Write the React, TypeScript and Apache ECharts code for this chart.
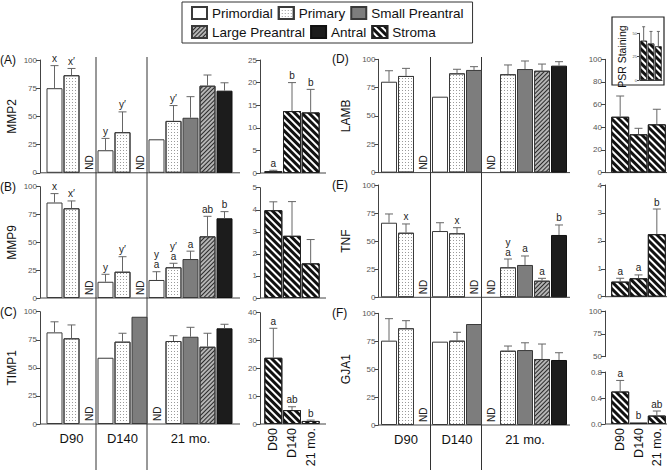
import React, { useEffect, useRef } from "react";
import * as echarts from "echarts";

const FONT = '"Liberation Sans", Arial, Helvetica, sans-serif';

// ---------- categories ----------
const FOLLICLE_TYPES = ["Primordial", "Primary", "Small Preantral", "Large Preantral", "Antral"];
const STROMA = "Stroma";
const STAGES = ["D90", "D140", "21 mo."];
// each bar slot: follicle type index and stage index
const SLOT_TYPE = [0, 1, 2, 0, 1, 2, 0, 1, 2, 3, 4];
const SLOT_STAGE = [0, 0, 0, 1, 1, 1, 2, 2, 2, 2, 2];
const STAGE_LABEL_SLOT = [1, 4, 8];
const SLOT_NAMES = SLOT_TYPE.map((t, i) => STAGES[SLOT_STAGE[i]] + " " + FOLLICLE_TYPES[t]);

// ---------- (A) MMP2 ----------
const MMP2_VALUES = [75, 86.5, null, 20, 36, null, 29.7, 46, 48.8, 77.2, 72.8];
const MMP2_ERRORS = [20, 6, null, 10.5, 18, null, null, 13.6, 18.7, 9.5, 7];
const MMP2_LETTERS = ["x", "x\u2032", "", "y", "y\u2032", "", "", "y\u2032", "", "", ""];
const MMP2_ND = [2, 5];
const MMP2_STROMA = [0.4, 13.7, 13.4];
const MMP2_STROMA_ERR = [0.2, 6.3, 5.1];
const MMP2_STROMA_LETTERS = ["a", "b", "b"];

// ---------- (B) MMP9 ----------
const MMP9_VALUES = [85.8, 80.6, null, 14.6, 23.6, null, 16.2, 27.6, 35, 55.4, 71.6];
const MMP9_ERRORS = [8, 6.6, null, 6.7, 13.5, null, 7.4, 3.6, 7.1, 18, 6];
const MMP9_LETTERS = ["x", "x\u2032", "", "y", "y\u2032", "", "y\na", "y\u2032\na", "a", "ab", "b"];
const MMP9_ND = [2, 5];
const MMP9_STROMA = [3.98, 2.82, 1.57];
const MMP9_STROMA_ERR = [0.38, 1.55, 1.08];
const MMP9_STROMA_LETTERS = ["", "", ""];

// ---------- (C) TIMP1 ----------
const TIMP1_VALUES = [81.6, 76.3, null, 59, 73.3, 95.5, null, 73.9, 77.7, 68.8, 85.2];
const TIMP1_ERRORS = [9.4, 11.9, null, null, 7.5, null, null, 4.7, 8.4, 12, 3.6];
const TIMP1_LETTERS = ["", "", "", "", "", "", "", "", "", "", ""];
const TIMP1_ND = [2, 6];
const TIMP1_STROMA = [23.8, 5.0, 1.1];
const TIMP1_STROMA_ERR = [10.6, 1.2, 0.3];
const TIMP1_STROMA_LETTERS = ["a", "ab", "b"];

// ---------- (D) LAMB ----------
const LAMB_VALUES = [80.2, 85.3, null, 67, 87.6, 90.6, null, 86.8, 91.4, 89.9, 94.4];
const LAMB_ERRORS = [9.7, 6.7, null, null, 3.6, 2.9, null, 8.2, 7.1, 5.9, 3.5];
const LAMB_LETTERS = ["", "", "", "", "", "", "", "", "", "", ""];
const LAMB_ND = [2, 6];
const LAMB_STROMA = [49.3, 33.8, 42.6];
const LAMB_STROMA_ERR = [18.3, 5.3, 13.3];
const LAMB_STROMA_LETTERS = ["", "", ""];
const PSR_VALUES = [42, 39, 36];
const PSR_ERR = [15, 13, 16];
const PSR_TICKS = [0, 25, 50];

// ---------- (E) TNF ----------
const TNF_VALUES = [66.4, 57.5, null, 59, 57, null, null, 26.7, 28.8, 14.8, 55.5];
const TNF_ERRORS = [7.8, 7.8, null, 7.4, 5, null, null, 7.4, 8, 2.1, 8.9];
const TNF_LETTERS = ["", "x", "", "", "x", "", "", "y\na", "a", "a", "b"];
const TNF_ND = [2, 5, 6];
const TNF_STROMA = [0.54, 0.66, 2.24];
const TNF_STROMA_ERR = [0.12, 0.12, 0.9];
const TNF_STROMA_LETTERS = ["a", "a", "b"];

// ---------- (F) GJA1 ----------
const GJA1_VALUES = [75.5, 86.6, null, 74.6, 75.5, 90.4, null, 66.5, 67.1, 59.1, 58.2];
const GJA1_ERRORS = [19.7, 6.8, null, null, 7.5, null, null, 4.2, 6.5, 13.4, 6.5];
const GJA1_LETTERS = ["", "", "", "", "", "", "", "", "", "", ""];
const GJA1_ND = [2, 6];
const GJA1_STROMA = [0.5, 0.02, 0.13];
const GJA1_STROMA_ERR = [0.17, null, 0.07];
const GJA1_STROMA_LETTERS = ["a", "b", "ab"];

const MAIN_TICKS = { min: 0, max: 100, interval: 25 };

const PANELS = [
  { tag: "(A)", name: "MMP2", values: MMP2_VALUES, errors: MMP2_ERRORS, letters: MMP2_LETTERS, nd: MMP2_ND,
    stroma: MMP2_STROMA, stromaErr: MMP2_STROMA_ERR, stromaLetters: MMP2_STROMA_LETTERS, axis: { min: 0, max: 25, interval: 5 } },
  { tag: "(B)", name: "MMP9", values: MMP9_VALUES, errors: MMP9_ERRORS, letters: MMP9_LETTERS, nd: MMP9_ND,
    stroma: MMP9_STROMA, stromaErr: MMP9_STROMA_ERR, stromaLetters: MMP9_STROMA_LETTERS, axis: { min: 0, max: 5, interval: 1 } },
  { tag: "(C)", name: "TIMP1", values: TIMP1_VALUES, errors: TIMP1_ERRORS, letters: TIMP1_LETTERS, nd: TIMP1_ND,
    stroma: TIMP1_STROMA, stromaErr: TIMP1_STROMA_ERR, stromaLetters: TIMP1_STROMA_LETTERS, axis: { min: 0, max: 40, interval: 10 } },
  { tag: "(D)", name: "LAMB", values: LAMB_VALUES, errors: LAMB_ERRORS, letters: LAMB_LETTERS, nd: LAMB_ND,
    stroma: LAMB_STROMA, stromaErr: LAMB_STROMA_ERR, stromaLetters: LAMB_STROMA_LETTERS, axis: { min: 0, max: 100, interval: 20 } },
  { tag: "(E)", name: "TNF", values: TNF_VALUES, errors: TNF_ERRORS, letters: TNF_LETTERS, nd: TNF_ND,
    stroma: TNF_STROMA, stromaErr: TNF_STROMA_ERR, stromaLetters: TNF_STROMA_LETTERS, axis: { min: 0, max: 4, interval: 1 } },
  { tag: "(F)", name: "GJA1", values: GJA1_VALUES, errors: GJA1_ERRORS, letters: GJA1_LETTERS, nd: GJA1_ND,
    stroma: GJA1_STROMA, stromaErr: GJA1_STROMA_ERR, stromaLetters: GJA1_STROMA_LETTERS, axis: { min: 0, max: 0.8, interval: 0.4 },
    upperAxis: { min: 50, max: 100, interval: 25 } },
];

// ---------- layout (pixels) ----------
const COLS = [
  { main: { left: 46, width: 187, axisX: 40, endX: 240 }, inset: { left: 264, width: 56, axisX: 260, endX: 326 }, tagX: 0, nameGap: 22 },
  { main: { left: 380.5, width: 187, axisX: 378.5, endX: 570 }, inset: { left: 611, width: 55, axisX: 605, endX: 667 }, tagX: 332, nameGap: 27 },
];
const ROWS = [
  [{ top: 60, h: 112.8, it: 60, ih: 113 }, { top: 186.7, h: 111.3, it: 187.7, ih: 110.3 }, { top: 311.7, h: 112.3, it: 312.7, ih: 111.3 }],
  [{ top: 59.3, h: 113.3, it: 59.3, ih: 113.3 }, { top: 185, h: 112.3, it: 185, ih: 111.7 }, { top: 313.3, h: 111.7, it: 372, ih: 52, ut: 311, uh: 45.7 }],
];

const BORDER = "#3a3a3a";
const TYPE_STYLES: any[] = [
  { color: "#ffffff", borderColor: BORDER, borderWidth: 1 },
  { color: "#ffffff", borderColor: BORDER, borderWidth: 1,
    decal: { symbol: "rect", symbolSize: 1, dashArrayX: [1, 2], dashArrayY: [1, 2], color: "#9a9a9a" } },
  { color: "#7d7d7d", borderColor: BORDER, borderWidth: 1 },
  { color: "#b4b4b4", borderColor: BORDER, borderWidth: 1,
    decal: { symbol: "rect", symbolSize: 1, dashArrayX: [1, 0], dashArrayY: [1, 1.4], rotation: -Math.PI / 4, color: "#2a2a2a" } },
  { color: "#1c1c1c", borderColor: "#111", borderWidth: 1 },
];
const STROMA_STYLE: any = {
  color: "#ffffff", borderColor: "#222", borderWidth: 1,
  decal: { symbol: "rect", symbolSize: 1, dashArrayX: [1, 0], dashArrayY: [3, 2], rotation: Math.PI / 4, color: "#111" },
};

const AXIS_COLOR = "#444";

function yAxisBase(gridIndex: number, ticks: any, offset: number, labelSize = 8, decimals = 0) {
  return {
    type: "value", gridIndex, min: ticks.min, max: ticks.max, interval: ticks.interval, offset,
    axisLine: { show: true, lineStyle: { color: AXIS_COLOR, width: 1 } },
    axisTick: { show: true, length: 4, lineStyle: { color: AXIS_COLOR } },
    axisLabel: { fontSize: labelSize, color: "#555", margin: 3, fontFamily: FONT,
      formatter: (v: number) => (decimals ? v.toFixed(decimals) : String(v)) },
    splitLine: { show: false },
  };
}

function errorSeries(gridIndex: number, values: any[], errors: any[], letters: string[], nd: number[], capHalf: number, fontSize = 10) {
  return {
    type: "custom", xAxisIndex: gridIndex, yAxisIndex: gridIndex, z: 5, silent: true,
    data: values.map((v, i) => [i, v == null ? 0 : v]),
    encode: { x: 0, y: 1 },
    renderItem: (params: any, api: any) => {
      const i = params.dataIndex;
      const v = values[i];
      const children: any[] = [];
      if (nd && nd.indexOf(i) >= 0) {
        const p = api.coord([i, 0]);
        children.push({ type: "text", x: p[0] + 0.5, y: p[1] - 3, rotation: Math.PI / 2,
          style: { text: "ND", fontSize: 10, fontFamily: FONT, fill: "#222", align: "left", verticalAlign: "middle" } });
      }
      if (v != null) {
        const err = errors[i] || 0;
        const p0 = api.coord([i, v]);
        const p1 = api.coord([i, v + err]);
        if (err > 0) {
          children.push({ type: "line", shape: { x1: p0[0], y1: p0[1], x2: p1[0], y2: p1[1] }, style: { stroke: "#666", lineWidth: 1 } });
          children.push({ type: "line", shape: { x1: p1[0] - capHalf, y1: p1[1], x2: p1[0] + capHalf, y2: p1[1] }, style: { stroke: "#666", lineWidth: 1 } });
        }
        const lab = letters ? letters[i] : "";
        if (lab) {
          children.push({ type: "text", x: p1[0], y: p1[1] - 2,
            style: { text: lab, fontSize, lineHeight: fontSize, fontFamily: FONT, fill: "#222", align: "center", verticalAlign: "bottom" } });
        }
      }
      return { type: "group", children };
    },
  };
}

function buildOption() {
  const grid: any[] = [];
  const xAxis: any[] = [];
  const yAxis: any[] = [];
  const series: any[] = [];
  const graphic: any[] = [];
  const addGrid = (left: number, top: number, width: number, height: number) => {
    grid.push({ left, top, width, height, containLabel: false });
    return grid.length - 1;
  };

  PANELS.forEach((p: any, k) => {
    const c = k < 3 ? 0 : 1;
    const r = k % 3;
    const col = COLS[c];
    const row: any = ROWS[c][r];
    const isBottom = r === 2;

    // main grid
    const g = addGrid(col.main.left, row.top, col.main.width, row.h);
    xAxis.push({
      type: "category", gridIndex: g, data: SLOT_NAMES,
      axisLine: { show: false }, axisTick: { show: false }, splitLine: { show: false },
      axisLabel: isBottom
        ? { show: true, interval: 0, fontSize: 13, color: "#111", margin: 8, fontFamily: FONT,
            formatter: (_v: string, i: number) => (STAGE_LABEL_SLOT.indexOf(i) >= 0 ? STAGES[SLOT_STAGE[i]] : "") }
        : { show: false },
    });
    yAxis.push({
      ...yAxisBase(g, MAIN_TICKS, col.main.left - col.main.axisX),
      name: p.name, nameLocation: "middle", nameGap: col.nameGap, nameRotate: 90,
      nameTextStyle: { fontSize: 12, color: "#111", fontFamily: FONT },
    });
    FOLLICLE_TYPES.forEach((t, ti) => {
      series.push({
        type: "bar", name: t, xAxisIndex: g, yAxisIndex: g, barWidth: 16, barGap: "-100%",
        data: p.values.map((v: any, i: number) => (SLOT_TYPE[i] === ti ? v : null)),
        itemStyle: TYPE_STYLES[ti], silent: true,
      });
    });
    series.push(errorSeries(g, p.values, p.errors, p.letters, p.nd, 4));
    const baseY = row.top + row.h;
    graphic.push({ type: "line", shape: { x1: col.main.axisX, y1: baseY, x2: col.main.endX, y2: baseY }, style: { stroke: AXIS_COLOR, lineWidth: 1 } });
    graphic.push({ type: "text", x: col.tagX, y: row.top, style: { text: p.tag, fontSize: 12, fontFamily: FONT, fill: "#111", verticalAlign: "middle" } });

    // stroma inset grid
    const gi = addGrid(col.inset.left, row.it, col.inset.width, row.ih);
    xAxis.push({
      type: "category", gridIndex: gi, data: STAGES,
      axisLine: { show: false }, axisTick: { show: false }, splitLine: { show: false },
      axisLabel: isBottom
        ? { show: true, interval: 0, rotate: 90, fontSize: 12.5, color: "#111", margin: 4, fontFamily: FONT }
        : { show: false },
    });
    yAxis.push(yAxisBase(gi, p.axis, col.inset.left - col.inset.axisX, 8, p.axis.max < 1 ? 1 : 0));
    series.push({
      type: "bar", name: STROMA, xAxisIndex: gi, yAxisIndex: gi, barWidth: 18,
      data: p.stroma, itemStyle: STROMA_STYLE, silent: true,
    });
    series.push(errorSeries(gi, p.stroma, p.stromaErr, p.stromaLetters, [], 4));
    const ibase = row.it + row.ih;
    graphic.push({ type: "line", shape: { x1: col.inset.axisX, y1: ibase, x2: col.inset.endX, y2: ibase }, style: { stroke: AXIS_COLOR, lineWidth: 1 } });

    // upper segment of a broken axis
    if (p.upperAxis) {
      const gu = addGrid(col.inset.left, row.ut, col.inset.width, row.uh);
      xAxis.push({ type: "category", gridIndex: gu, data: STAGES, show: false });
      yAxis.push(yAxisBase(gu, p.upperAxis, col.inset.left - col.inset.axisX));
      series.push({ type: "bar", name: STROMA, xAxisIndex: gu, yAxisIndex: gu, data: [], itemStyle: STROMA_STYLE, silent: true });
    }
  });

  // PSR staining mini inset (inside panel D)
  graphic.push({ type: "rect", z: -1, shape: { x: 612, y: 17, width: 52, height: 68 }, style: { fill: "#fff", stroke: "#222", lineWidth: 1.2 } });
  const gp = addGrid(640, 33.3, 22, 46.7);
  xAxis.push({ type: "category", gridIndex: gp, data: STAGES, axisLine: { show: true, lineStyle: { color: AXIS_COLOR } },
    axisTick: { show: false }, axisLabel: { show: false } });
  yAxis.push({
    ...yAxisBase(gp, { min: PSR_TICKS[0], max: PSR_TICKS[2], interval: PSR_TICKS[1] }, 1, 4),
    axisTick: { show: true, length: 2, lineStyle: { color: AXIS_COLOR } },
    axisLabel: { fontSize: 4, color: "#555", margin: 2 },
    name: "PSR Staining", nameLocation: "middle", nameGap: 12, nameRotate: 90,
    nameTextStyle: { fontSize: 10.5, color: "#111", fontFamily: FONT },
  });
  series.push({ type: "bar", name: STROMA, xAxisIndex: gp, yAxisIndex: gp, barWidth: 6.5, data: PSR_VALUES, itemStyle: { ...STROMA_STYLE, borderWidth: 0.6 }, silent: true });
  series.push(errorSeries(gp, PSR_VALUES, PSR_ERR, ["", "", ""], [], 1.5));

  // stage separators spanning the three stacked panels of each column
  COLS.forEach((col) => {
    const slot = col.main.width / SLOT_TYPE.length;
    [3, 6].forEach((s) => {
      const x = col.main.left + s * slot - 1;
      graphic.push({ type: "line", shape: { x1: x, y1: 57, x2: x, y2: 470 }, style: { stroke: "#333", lineWidth: 1 } });
    });
  });

  return {
    animation: false,
    backgroundColor: "#ffffff",
    textStyle: { fontFamily: FONT },
    legend: {
      data: [...FOLLICLE_TYPES, STROMA], left: 182, top: 2, width: 280,
      itemWidth: 15, itemHeight: 12, itemGap: 5, padding: [4, 9],
      borderColor: "#333", borderWidth: 1, icon: "rect", selectedMode: false,
      textStyle: { fontSize: 13.5, color: "#111", fontFamily: FONT },
    },
    grid, xAxis, yAxis, series, graphic,
  };
}

export default function App() {
  const ref = useRef<HTMLDivElement>(null);
  useEffect(() => {
    const chart = echarts.init(ref.current as HTMLDivElement, null, { renderer: "svg" });
    chart.setOption(buildOption() as any);
    return () => chart.dispose();
  }, []);
  return <div ref={ref} style={{ position: "fixed", left: 0, top: 0, width: 672, height: 472, background: "#fff" }} />;
}
